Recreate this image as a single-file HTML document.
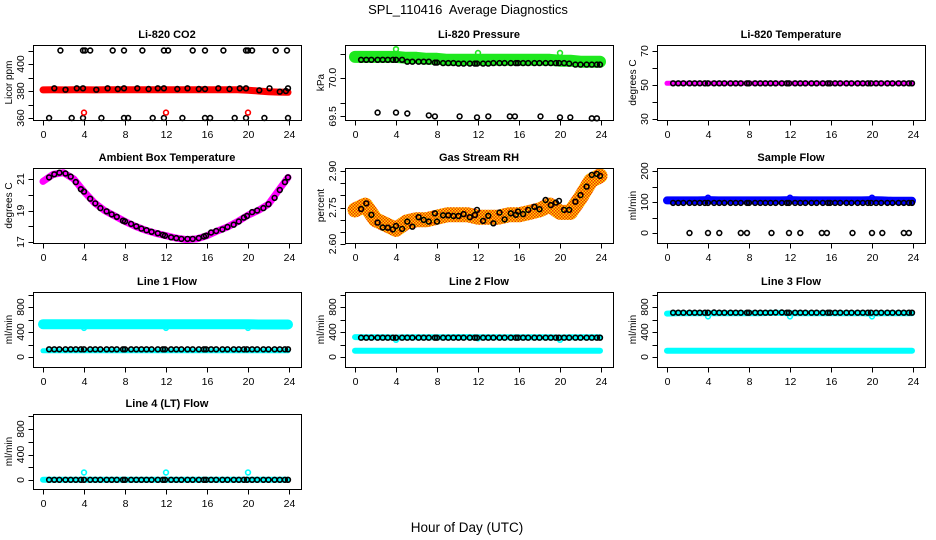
<!DOCTYPE html>
<html><head><meta charset="utf-8">
<style>
html,body{margin:0;padding:0;background:#fff;}
svg{display:block;font-family:"Liberation Sans",Arial,sans-serif;}
</style></head>
<body>
<svg id="chart" width="936" height="540" viewBox="0 0 936 540" xmlns="http://www.w3.org/2000/svg">
<defs>
<pattern id="rhpat" width="3" height="3" patternUnits="userSpaceOnUse">
<rect width="3" height="3" fill="#ffd800"/><rect width="1.5" height="1.5" fill="#f03000"/><rect x="1.5" y="1.5" width="1.5" height="1.5" fill="#f03000"/>
</pattern>
</defs>
<text x="468" y="14" font-size="13" text-anchor="middle" xml:space="preserve">SPL_110416  Average Diagnostics</text>
<text x="467" y="532" font-size="13.5" text-anchor="middle">Hour of Day (UTC)</text>
</svg>
<script>
// ---- shared data ----
const xTicks = [0,4,8,12,16,20,24];
const hoursB = [0.6,1.1,1.6,2.2,2.7,3.2,3.7,4.0,4.6,5.1,5.6,6.2,6.7,7.2,7.8,8.0,8.6,9.1,9.6,10.1,10.6,11.2,11.7,11.9,12.5,13.0,13.5,14.1,14.6,15.2,15.7,15.9,16.4,16.9,17.5,18.0,18.6,19.1,19.6,19.9,20.4,20.9,21.5,22.0,22.6,23.1,23.6,23.9];
const hoursC = [0,1,2,3,4,5,6,7,8,9,10,11,12,13,14,15,16,17,18,19,20,21,22,23,23.9];
const spikeHours = [4,12,20];

// CO2
const co2Band = [380.8,380.9,380.8,380.9,380.9,380.8,380.9,381.0,381.0,381.0,380.9,381.0,381.0,381.0,380.9,381.0,381.0,381.0,381.0,380.9,380.6,380.0,379.5,379.2,379.0];
const co2MidHours = [1.1,2.2,3.3,3.9,5.2,6.3,7.3,7.9,9.2,10.3,11.2,11.8,13.1,14.1,15.2,15.8,17.1,18.2,19.2,19.8,21.1,22.1,23.1,23.7,23.9];
const co2Mid = [382,381,382,382,381,382,381.5,382,382,381.5,382,382,381.5,382,381.5,381.5,382,381.5,382,382,380.5,382,379.5,380,382];
const co2HiHours = [1.7,3.9,4.1,4.6,6.8,7.9,9.7,11.8,12.2,14.6,15.8,17.6,19.8,20.0,20.4,22.7,23.8];
const co2Hi = [410,410,410,410,410,410,410,410,410,410,410,410,410,410,410,410,410];
const co2LoHours = [0.6,2.8,3.9,5.7,7.9,8.3,10.7,11.8,13.6,15.8,16.3,18.7,19.8,21.6,23.9];
const co2Lo = [360,360,360,360,360,360,360,360,360,360,360,360,360,360,360];
const co2Spike = [364,364,364];

// Pressure
const presBand = [70.22,70.22,70.22,70.22,70.22,70.21,70.21,70.2,70.2,70.19,70.19,70.19,70.19,70.19,70.19,70.19,70.19,70.19,70.19,70.19,70.18,70.18,70.17,70.17,70.17];
const presSpike = [70.3,70.26,70.26];
const presBlack = [70.19,70.19,70.19,70.19,70.19,70.19,70.19,70.19,70.19,70.17,70.17,70.17,70.17,70.17,70.16,70.16,70.155,70.155,70.155,70.15,70.15,70.15,70.15,70.15,70.15,70.15,70.155,70.155,70.155,70.155,70.155,70.155,70.155,70.155,70.155,70.155,70.155,70.155,70.155,70.155,70.155,70.15,70.14,70.14,70.14,70.14,70.14,70.14];
const zeroHours = [2.2,4.0,5.1,7.2,7.8,10.2,11.9,13.0,15.1,15.6,18.1,20.0,21.0,23.1,23.6];
const presLow = [69.64,69.64,69.63,69.61,69.6,69.6,69.59,69.6,69.6,69.6,69.6,69.59,69.59,69.58,69.58];

// Li-820 temperature
const tempBand = [51,51,51,51,51,51,51,51,51,51,51,51,51,51,51,51,51,51,51,51,51,51,51,51,51];
const tempBlack = [51,51,51,51,51,51,51,51,51,51,51,51,51,51,51,51,51,51,51,51,51,51,51,51,51,51,51,51,51,51,51,51,51,51,51,51,51,51,51,51,51,51,51,51,51,51,51,51];

// Ambient box temperature
const ambBand = [20.85,21.3,21.4,21.0,20.2,19.5,19.0,18.65,18.3,18.0,17.75,17.55,17.4,17.25,17.15,17.2,17.4,17.7,17.95,18.3,18.7,19.0,19.4,20.3,21.1];
const ambBlack = [21.1,21.3,21.4,21.35,21.15,20.8,20.35,20.2,19.75,19.45,19.15,18.95,18.75,18.6,18.35,18.3,18.15,18.0,17.85,17.75,17.65,17.55,17.45,17.4,17.3,17.25,17.2,17.2,17.2,17.25,17.35,17.4,17.6,17.7,17.8,17.95,18.1,18.3,18.55,18.65,18.9,19.0,19.15,19.4,19.8,20.3,20.8,21.1];

// Gas stream RH
const rhBand = [2.74,2.76,2.70,2.68,2.66,2.69,2.70,2.70,2.71,2.72,2.72,2.72,2.71,2.71,2.71,2.72,2.72,2.73,2.74,2.76,2.73,2.73,2.79,2.86,2.88];
const rhBlack = [2.744,2.767,2.72,2.688,2.668,2.667,2.66,2.674,2.662,2.692,2.671,2.71,2.699,2.692,2.726,2.692,2.718,2.718,2.715,2.715,2.723,2.71,2.719,2.74,2.695,2.716,2.685,2.729,2.701,2.726,2.72,2.733,2.723,2.74,2.753,2.743,2.781,2.76,2.77,2.777,2.74,2.74,2.774,2.801,2.836,2.884,2.888,2.88];

// Sample flow
const sfBand = [105,105,105,105,106,105,105,105,105,105,105,105,106,105,105,105,105,105,105,105,106,105,104,104,104];
const sfSpike = [114,114,114];
const sfBlack = [97,97,97,97,97,97,97,97,97,97,97,97,97,97,97,97,97,97,97,97,97,97,97,97,97,97,97,97,97,97,97,97,97,97,97,97,97,97,97,97,97,97,97,97,97,97,97,97];
const sfZero = [0,0,0,0,0,0,0,0,0,0,0,0,0,0,0];

// Line flows
const l1Band = [525,525,525,525,525,525,525,525,525,525,525,525,525,525,525,525,525,525,525,525,525,520,520,520,520];
const l1Low = [100,100,100,100,100,100,100,100,100,100,100,100,100,100,100,100,100,100,100,100,100,100,100,100,100];
const l1Spike = [465,465,465];
const l1Black = [123,123,123,123,123,123,123,123,123,123,123,123,123,123,123,123,123,123,123,123,123,123,123,123,123,123,123,123,123,123,123,123,123,123,123,123,123,123,123,123,123,123,123,123,123,123,123,123];
const l2Band = [318,315,315,315,312,315,315,315,315,315,318,318,315,315,315,315,315,315,315,315,312,315,315,315,315];
const l2Low = [100,100,100,100,100,100,100,100,100,100,100,100,100,100,100,100,100,100,100,100,100,100,100,100,100];
const l2Spike = [275,300,275];
const l2Black = [309,309,309,309,309,309,309,309,309,309,309,309,309,309,309,309,309,309,309,309,309,309,309,309,309,309,309,309,309,309,309,309,309,309,309,309,309,309,309,309,309,309,309,309,309,309,309,309];
const l3Band = [695,700,700,700,700,700,700,700,700,700,705,705,700,700,700,700,700,700,700,700,695,700,700,700,700];
const l3Low = [100,100,100,100,100,100,100,100,100,100,100,100,100,100,100,100,100,100,100,100,100,100,100,100,100];
const l3Spike = [650,650,650];
const l3Black = [709,709,709,709,709,709,709,709,712,709,709,709,709,709,709,709,709,709,709,709,712,712,709,709,709,709,709,709,709,709,709,709,709,709,709,709,709,709,709,709,709,709,709,709,709,709,709,709];
const l4Band = [5,5,5,5,5,5,5,5,5,5,5,5,5,5,5,5,5,5,5,5,5,5,5,5,5];
const l4Spike = [117,117,117];
const l4Black = [3,3,3,3,3,3,3,3,3,3,3,3,3,3,3,3,3,3,3,3,3,3,3,3,3,3,3,3,3,3,3,3,3,3,3,3,3,3,3,3,3,3,3,3,3,3,3,3];

const NS = "http://www.w3.org/2000/svg";
const svg = document.getElementById('chart');
const colLeft = [33, 345, 657];
const colX0 = [43, 355, 667];
const boxW = 268;
const rowTop = [45, 168, 292, 414];
const boxH = 75;

function mk(tag, attrs, parent) {
  const e = document.createElementNS(NS, tag);
  for (const k in attrs) e.setAttribute(k, attrs[k]);
  (parent || svg).appendChild(e);
  return e;
}

function panel(cfg) {
  const g = mk('g', {});
  
  
  const L = colLeft[cfg.col], T = rowTop[cfg.row], B = T + boxH;
  const xs = h => colX0[cfg.col] + h * 246 / 24;
  const ys = v => cfg.p1 + (v - cfg.v1) * (cfg.p2 - cfg.p1) / (cfg.v2 - cfg.v1);
  const pg = mk('g', {}, g);
  
  
  cfg.draw(pg, xs, ys);
  const box = mk('rect', {x: L + 0.5, y: T + 0.5, width: boxW, height: boxH, fill: 'none', stroke: '#000', 'stroke-width': 1}, g);
  
  
  const xa = mk('g', {}, g);
  
  
  xTicks.forEach(t => {
    const x = Math.round(xs(t)) + 0.5;
    const tk = mk('line', {x1: x, x2: x, y1: B + 0.5, y2: B + 5.5, stroke: '#000'}, xa);
    
    
    const lb = mk('text', {x: x, y: B + 18, 'font-size': 10.5, 'text-anchor': 'middle'}, xa);
    
    
    lb.textContent = t;
  });
  const ya = mk('g', {}, g);
  
  
  cfg.yTicks.forEach(t => {
    const y = Math.round(ys(t)) + 0.5;
    const tk = mk('line', {x1: L - 4.5, x2: L + 0.5, y1: y, y2: y, stroke: '#000'}, ya);
    
    
  });
  cfg.yLabVals.forEach((t, i) => {
    const y = ys(t);
    const lb = mk('text', {x: 0, y: 0, 'font-size': 10.5, 'text-anchor': 'middle', transform: 'translate(' + (L - 9) + ',' + y + ') rotate(-90)'}, ya);
    
    
    lb.textContent = cfg.yLabTxt[i];
  });
  const yt = mk('text', {x: 0, y: 0, 'font-size': 10, 'text-anchor': 'middle', transform: 'translate(' + (L - 21) + ',' + (T + boxH / 2) + ') rotate(-90)'}, g);
  
  
  yt.textContent = cfg.ylab;
  const ti = mk('text', {x: L + boxW / 2, y: T - 7, 'font-size': 11, 'font-weight': 'bold', 'text-anchor': 'middle'}, g);
  
  
  ti.textContent = cfg.title;
}

function band(g, xs, ys, hrs, vals, color, w, name) {
  const d = hrs.map((h, i) => (i ? 'L' : 'M') + xs(h).toFixed(1) + ' ' + ys(vals[i]).toFixed(1)).join(' ');
  const p = mk('path', {d: d, fill: 'none', stroke: color, 'stroke-width': w, 'stroke-linejoin': 'round', 'stroke-linecap': 'round'}, g);
  
  
}
function pts(g, xs, ys, hrs, vals, color, name) {
  hrs.forEach((h, i) => {
    const c = mk('circle', {cx: xs(h).toFixed(1), cy: ys(vals[i]).toFixed(1), r: 2.4, fill: 'none', stroke: color, 'stroke-width': 1.6}, g);
    
    
  });
}

panel({name: 'co2-panel', col: 0, row: 0, title: 'Li-820 CO2', ylab: 'Licor ppm', v1: 360, p1: 118, v2: 400, p2: 64,
  yTicks: [360,370,380,390,400,410], yLabVals: [360,380,400], yLabTxt: ['360','380','400'],
  draw: (g, xs, ys) => {
    band(g, xs, ys, hoursC, co2Band, '#ff0000', 7, 'co2-band');
    pts(g, xs, ys, co2MidHours, co2Mid, '#000', 'co2-point');
    pts(g, xs, ys, co2HiHours, co2Hi, '#000', 'co2-point-high');
    pts(g, xs, ys, co2LoHours, co2Lo, '#000', 'co2-point-low');
    pts(g, xs, ys, spikeHours, co2Spike, '#ff0000', 'co2-spike');
  }});
panel({name: 'pressure-panel', col: 1, row: 0, title: 'Li-820 Pressure', ylab: 'kPa', v1: 70.0, p1: 78, v2: 70.25, p2: 54,
  yTicks: [70.25,70.0,69.74,69.6], yLabVals: [70.0,69.6], yLabTxt: ['70.0','69.5'],
  draw: (g, xs, ys) => {
    band(g, xs, ys, hoursC, presBand, '#1ee81e', 12, 'pressure-band');
    pts(g, xs, ys, spikeHours, presSpike, '#1ee81e', 'pressure-spike');
    pts(g, xs, ys, hoursB, presBlack, '#000', 'pressure-point');
    pts(g, xs, ys, zeroHours, presLow, '#000', 'pressure-point-low');
  }});
panel({name: 'temperature-panel', col: 2, row: 0, title: 'Li-820 Temperature', ylab: 'degrees C', v1: 70, p1: 51, v2: 30, p2: 119,
  yTicks: [30,40,50,60,70], yLabVals: [30,50,70], yLabTxt: ['30','50','70'],
  draw: (g, xs, ys) => {
    band(g, xs, ys, hoursC, tempBand, '#ff00ff', 5, 'temperature-band');
    pts(g, xs, ys, hoursB, tempBlack, '#000', 'temperature-point');
  }});
panel({name: 'ambient-panel', col: 0, row: 1, title: 'Ambient Box Temperature', ylab: 'degrees C', v1: 21, p1: 179, v2: 17, p2: 242,
  yTicks: [17,18,19,20,21], yLabVals: [17,19,21], yLabTxt: ['17','19','21'],
  draw: (g, xs, ys) => {
    band(g, xs, ys, hoursC, ambBand, '#ff00ff', 7, 'ambient-band');
    pts(g, xs, ys, hoursB, ambBlack, '#000', 'ambient-point');
  }});
panel({name: 'rh-panel', col: 1, row: 1, title: 'Gas Stream RH', ylab: 'percent', v1: 2.90, p1: 171, v2: 2.60, p2: 244,
  yTicks: [2.60,2.65,2.70,2.75,2.80,2.85,2.90], yLabVals: [2.60,2.75,2.90], yLabTxt: ['2.60','2.75','2.90'],
  draw: (g, xs, ys) => {
    band(g, xs, ys, hoursC, rhBand, 'url(#rhpat)', 15, 'rh-band');
    pts(g, xs, ys, hoursB, rhBlack, '#000', 'rh-point');
  }});
panel({name: 'sample-flow-panel', col: 2, row: 1, title: 'Sample Flow', ylab: 'ml/min', v1: 200, p1: 171, v2: 0, p2: 233,
  yTicks: [0,50,100,150,200], yLabVals: [0,100,200], yLabTxt: ['0','100','200'],
  draw: (g, xs, ys) => {
    band(g, xs, ys, hoursC, sfBand, '#0000ff', 8, 'sample-flow-band');
    pts(g, xs, ys, spikeHours, sfSpike, '#0000ff', 'sample-flow-spike');
    pts(g, xs, ys, hoursB, sfBlack, '#000', 'sample-flow-point');
    pts(g, xs, ys, zeroHours, sfZero, '#000', 'sample-flow-zero');
  }});
const flowTicks = [0,200,400,600,800,1000];
panel({name: 'line1-flow-panel', col: 0, row: 2, title: 'Line 1 Flow', ylab: 'ml/min', v1: 0, p1: 357, v2: 800, p2: 307,
  yTicks: flowTicks, yLabVals: [0,400,800], yLabTxt: ['0','400','800'],
  draw: (g, xs, ys) => {
    band(g, xs, ys, hoursC, l1Band, '#00ffff', 10, 'line1-band');
    pts(g, xs, ys, spikeHours, l1Spike, '#00ffff', 'line1-spike');
    band(g, xs, ys, hoursC, l1Low, '#00ffff', 5, 'line1-low-band');
    pts(g, xs, ys, hoursB, l1Black, '#000', 'line1-point');
  }});
panel({name: 'line2-flow-panel', col: 1, row: 2, title: 'Line 2 Flow', ylab: 'ml/min', v1: 0, p1: 357, v2: 800, p2: 307,
  yTicks: flowTicks, yLabVals: [0,400,800], yLabTxt: ['0','400','800'],
  draw: (g, xs, ys) => {
    band(g, xs, ys, hoursC, l2Band, '#00ffff', 6, 'line2-band');
    pts(g, xs, ys, spikeHours, l2Spike, '#00ffff', 'line2-spike');
    band(g, xs, ys, hoursC, l2Low, '#00ffff', 6, 'line2-low-band');
    pts(g, xs, ys, hoursB, l2Black, '#000', 'line2-point');
  }});
panel({name: 'line3-flow-panel', col: 2, row: 2, title: 'Line 3 Flow', ylab: 'ml/min', v1: 0, p1: 357, v2: 800, p2: 307,
  yTicks: flowTicks, yLabVals: [0,400,800], yLabTxt: ['0','400','800'],
  draw: (g, xs, ys) => {
    band(g, xs, ys, hoursC, l3Band, '#00ffff', 6, 'line3-band');
    pts(g, xs, ys, spikeHours, l3Spike, '#00ffff', 'line3-spike');
    band(g, xs, ys, hoursC, l3Low, '#00ffff', 6, 'line3-low-band');
    pts(g, xs, ys, hoursB, l3Black, '#000', 'line3-point');
  }});
panel({name: 'line4-flow-panel', col: 0, row: 3, title: 'Line 4 (LT) Flow', ylab: 'ml/min', v1: 0, p1: 480, v2: 800, p2: 429,
  yTicks: flowTicks, yLabVals: [0,400,800], yLabTxt: ['0','400','800'],
  draw: (g, xs, ys) => {
    band(g, xs, ys, hoursC, l4Band, '#00ffff', 6, 'line4-band');
    pts(g, xs, ys, spikeHours, l4Spike, '#00ffff', 'line4-spike');
    pts(g, xs, ys, hoursB, l4Black, '#000', 'line4-point');
  }});
</script>
</body></html>
